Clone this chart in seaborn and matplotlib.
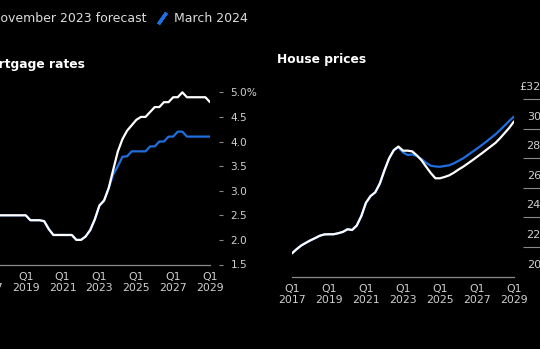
import matplotlib
matplotlib.use("Agg")
import matplotlib.pyplot as plt
import matplotlib.transforms as mtransforms
from matplotlib.lines import Line2D
import pandas as pd
import seaborn as sns

# ---------------- data ----------------
quarters = [str(p) for p in pd.period_range("2017Q1", "2029Q1", freq="Q")]

series_names = ["November 2023 forecast", "March 2024"]

mortgage_nov23 = [2.5, 2.5, 2.5, 2.5, 2.5, 2.5, 2.5, 2.5, 2.5,
                  2.4, 2.4, 2.4, 2.38, 2.22, 2.1, 2.1, 2.1, 2.1, 2.1, 2.0, 2.0,
                  2.07, 2.2, 2.42, 2.7, 2.8, 3.05, 3.43, 3.8, 4.05, 4.22, 4.33,
                  4.44, 4.5, 4.5, 4.6, 4.7, 4.7, 4.8, 4.8, 4.9, 4.9, 5.0,
                  4.9, 4.9, 4.9, 4.9, 4.9, 4.8]
mortgage_mar24 = [2.5, 2.5, 2.5, 2.5, 2.5, 2.5, 2.5, 2.5, 2.5,
                  2.4, 2.4, 2.4, 2.38, 2.22, 2.1, 2.1, 2.1, 2.1, 2.1, 2.0, 2.0,
                  2.07, 2.2, 2.42, 2.7, 2.8, 3.05, 3.33, 3.5, 3.69, 3.7, 3.8,
                  3.8, 3.8, 3.8, 3.9, 3.9, 4.0, 4.0, 4.1, 4.1, 4.2, 4.2,
                  4.1, 4.1, 4.1, 4.1, 4.1, 4.1]

house_nov23 = [215.7, 218.5, 221.0, 222.8, 224.5, 226.0, 227.6, 228.5, 228.6,
               228.6, 229.3, 230.2, 232.0, 231.5, 234.5, 241.0, 250.0, 254.5,
               257.0, 263.0, 272.0, 280.0, 285.5, 288.0, 285.2, 285.2, 284.7,
               282.0, 278.7, 274.3, 270.1, 266.5, 266.5, 267.4, 268.5, 270.3,
               272.4, 274.3, 276.5, 278.7, 281.0, 283.3, 285.7, 288.1, 290.5,
               293.7, 297.2, 300.8, 305.0]
house_mar24 = [215.7, 218.5, 221.0, 222.8, 224.5, 226.0, 227.6, 228.5, 228.6,
               228.6, 229.3, 230.2, 232.0, 231.5, 234.5, 241.0, 250.0, 254.5,
               257.0, 263.0, 272.0, 280.0, 285.5, 287.5, 284.0, 282.3, 282.6,
               281.5, 279.5, 277.0, 275.0, 274.5, 274.3, 274.8, 275.3, 276.6,
               278.3, 280.0, 282.2, 284.4, 286.6, 288.9, 291.3, 293.8, 296.3,
               299.2, 302.3, 305.4, 308.3]

x_tick_years = [2017, 2019, 2021, 2023, 2025, 2027, 2029]
x_tick_labels = ["Q1\n2017", "Q1\n2019", "Q1\n2021", "Q1\n2023",
                 "Q1\n2025", "Q1\n2027", "Q1\n2029"]

rate_ticks = [1.5, 2.0, 2.5, 3.0, 3.5, 4.0, 4.5, 5.0]
rate_tick_labels = ["1.5", "2.0", "2.5", "3.0", "3.5", "4.0", "4.5", "5.0%"]

price_ticks = [200, 220, 240, 260, 280, 300, 320]
price_tick_labels = ["200K", "220K", "240K", "260K", "280K", "300K", "£320K"]

titles = ["Mortgage rates", "House prices"]

# ---------------- style ----------------
BLUE = "#1f6fe0"
WHITE = "#ffffff"
AXIS = "#8a8a8a"
LABEL = "#cfcfcf"
palette = {series_names[0]: WHITE, series_names[1]: BLUE}

sns.set_theme(style="dark")
plt.rcParams["font.family"] = ["DejaVu Sans"]
plt.rcParams["axes.facecolor"] = "black"
plt.rcParams["figure.facecolor"] = "black"

t = [int(q[:4]) + (int(q[-1]) - 1) / 4 for q in quarters]


def long_df(a, b):
    return pd.DataFrame({
        "t": t + t,
        "v": a + b,
        "series": [series_names[0]] * len(a) + [series_names[1]] * len(b),
    })


df_rates = long_df(mortgage_nov23, mortgage_mar24)
df_house = long_df(house_nov23, house_mar24)

fig = plt.figure(figsize=(5.4, 3.49), dpi=100, facecolor="black")
ax1 = fig.add_axes([-11.1 / 540, (349 - 264.5) / 349, 221.1 / 540, (264.5 - 87.4) / 349])
ax2 = fig.add_axes([292 / 540, (349 - 276.5) / 349, 222 / 540, (276.5 - 84.5) / 349])

for ax, df in [(ax1, df_rates), (ax2, df_house)]:
    for name in [series_names[1], series_names[0]]:
        sns.lineplot(data=df[df["series"] == name], x="t", y="v",
                     color=palette[name], linewidth=1.6, legend=False, ax=ax)
    ax.set_facecolor("black")
    ax.grid(False)
    ax.set_xlabel("")
    ax.set_ylabel("")
    for s in ["top", "left"]:
        ax.spines[s].set_visible(False)
    ax.spines["bottom"].set_color(AXIS)
    ax.spines["bottom"].set_linewidth(0.9)
    ax.set_xlim(2017, 2029)
    ax.set_xticks(x_tick_years)
    ax.set_xticklabels(x_tick_labels, linespacing=1.15)
    ax.tick_params(axis="x", colors=AXIS, labelcolor=LABEL, length=2.8,
                   width=0.9, pad=2.5, labelsize=7.8)
    ax.yaxis.tick_right()
    ax.spines["right"].set_visible(False)

# left panel: mortgage rates
ax1.set_ylim(1.5, 5.1)
ax1.spines["right"].set_position(("outward", 6.7))
ax1.set_yticks(rate_ticks)
ax1.set_yticklabels(rate_tick_labels)
ax1.tick_params(axis="y", right=True, left=False, labelright=True, labelleft=False,
                length=3.1, width=0.8, colors=AXIS, labelcolor=LABEL, pad=5.0,
                labelsize=7.6)

# right panel: house prices
ax2.set_ylim(200, 330)
ax2.spines["right"].set_position(("outward", 6.5))
ax2.set_yticks([v for v in price_ticks if v > 200])
ax2.tick_params(axis="y", right=True, left=False, labelright=False, labelleft=False,
                length=30, width=0.8, colors=AXIS)
lab_trans = mtransforms.offset_copy(ax2.get_yaxis_transform(), fig=fig,
                                    x=0, y=8.6, units="points")
for v, lab in zip(price_ticks, price_tick_labels):
    ax2.text(1.185, v, lab, transform=lab_trans, ha="right", va="center",
             color=LABEL, fontsize=8.0)

# titles
ax1.text((85 + 11.1) / 221.1, (264.5 - 67.7) / 177.1, titles[0],
         transform=ax1.transAxes, ha="right", va="baseline",
         fontsize=8.8, fontweight="bold", color="white")
ax2.text((277 - 292) / 222, (276.5 - 63.3) / 192, titles[1],
         transform=ax2.transAxes, ha="left", va="baseline",
         fontsize=8.8, fontweight="bold", color="white")

# legend
handles = [Line2D([], [], color=palette[n], linestyle="none", marker=(2, 2, -35),
                  markersize=10, markeredgewidth=2.4) for n in series_names]
fig.legend(handles, series_names, loc="center left",
           bbox_to_anchor=(-27.4 / 540, 1 - 19 / 349), ncol=2, frameon=False,
           fontsize=9, handlelength=1.0, handletextpad=0.5, columnspacing=0.7,
           borderpad=0, borderaxespad=0, labelcolor="#dddddd")

fig.savefig("out.png", dpi=100, facecolor="black")
